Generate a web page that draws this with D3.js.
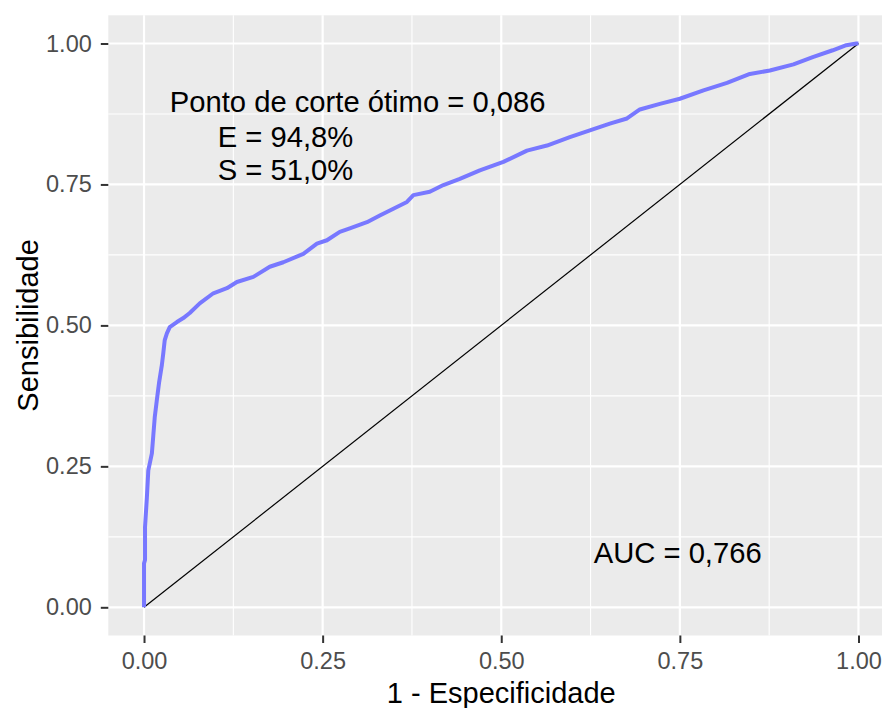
<!DOCTYPE html>
<html>
<head>
<meta charset="utf-8">
<script src="https://cdn.jsdelivr.net/npm/d3@7"></script>
<style>
  body { margin: 0; background: #fff; }
  svg { display: block; font-family: "Liberation Sans", Arial, sans-serif; }
</style>
</head>
<body>
<svg id="chart" width="882" height="708"></svg>
<script>
// ROC curve points: 1 - especificidade / sensibilidade
var fpr = [0, 0, 0.0014, 0.0014, 0.004, 0.006, 0.011, 0.013, 0.015, 0.018, 0.021, 0.025, 0.027, 0.029, 0.032,
  0.036, 0.046, 0.055, 0.064, 0.078, 0.097, 0.116, 0.130, 0.153, 0.176, 0.195, 0.223, 0.242, 0.256, 0.274,
  0.288, 0.312, 0.330, 0.349, 0.368, 0.377, 0.400, 0.419, 0.442, 0.470, 0.503, 0.536, 0.564, 0.596, 0.624,
  0.652, 0.676, 0.694, 0.722, 0.750, 0.783, 0.816, 0.848, 0.876, 0.909, 0.936, 0.964, 0.983, 0.997, 1];
var tpr = [0, 0.078, 0.084, 0.142, 0.195, 0.243, 0.273, 0.305, 0.337, 0.368, 0.398, 0.430, 0.451, 0.474, 0.486,
  0.497, 0.506, 0.513, 0.522, 0.539, 0.557, 0.566, 0.577, 0.586, 0.604, 0.612, 0.627, 0.645, 0.651, 0.666,
  0.672, 0.683, 0.695, 0.707, 0.719, 0.731, 0.737, 0.749, 0.760, 0.775, 0.790, 0.810, 0.819, 0.834, 0.846,
  0.858, 0.867, 0.883, 0.893, 0.902, 0.917, 0.930, 0.946, 0.952, 0.963, 0.976, 0.988, 0.997, 1.0, 1];

var majorTicks = [0, 0.25, 0.5, 0.75, 1];
var minorTicks = [0.125, 0.375, 0.625, 0.875];
var tickLabels = ["0.00", "0.25", "0.50", "0.75", "1.00"];

var xTitle = "1 - Especificidade";
var yTitle = "Sensibilidade";
var notes = [
  { text: "Ponto de corte ótimo = 0,086", x: 0.299, y: 0.879 },
  { text: "E = 94,8%", x: 0.198, y: 0.817 },
  { text: "S = 51,0%", x: 0.198, y: 0.758 },
  { text: "AUC = 0,766", x: 0.747, y: 0.078 }
];

var svg = d3.select("#chart");

var x = d3.scaleLinear().domain([-0.05, 1.05]).range([108.3, 894.2]);
var y = d3.scaleLinear().domain([-0.05, 1.05]).range([635.5, 15.3]);

var x0 = x.range()[0], x1 = x.range()[1];
var y0 = y.range()[0], y1 = y.range()[1];

// panel
svg.append("rect")
  .attr("x", x0).attr("y", y1)
  .attr("width", x1 - x0).attr("height", y0 - y1)
  .attr("fill", "#EBEBEB");

var grid = svg.append("g");
// minor grid
grid.selectAll(".vminor").data(minorTicks).enter().append("line")
  .attr("x1", d => x(d)).attr("x2", d => x(d))
  .attr("y1", y1).attr("y2", y0)
  .attr("stroke", "#fff").attr("stroke-width", 1.1);
grid.selectAll(".hminor").data(minorTicks).enter().append("line")
  .attr("y1", d => y(d)).attr("y2", d => y(d))
  .attr("x1", x0).attr("x2", x1)
  .attr("stroke", "#fff").attr("stroke-width", 1.1);
// major grid
grid.selectAll(".vmajor").data(majorTicks).enter().append("line")
  .attr("x1", d => x(d)).attr("x2", d => x(d))
  .attr("y1", y1).attr("y2", y0)
  .attr("stroke", "#fff").attr("stroke-width", 2.2);
grid.selectAll(".hmajor").data(majorTicks).enter().append("line")
  .attr("y1", d => y(d)).attr("y2", d => y(d))
  .attr("x1", x0).attr("x2", x1)
  .attr("stroke", "#fff").attr("stroke-width", 2.2);

// diagonal reference
svg.append("line")
  .attr("x1", x(0)).attr("y1", y(0))
  .attr("x2", x(1)).attr("y2", y(1))
  .attr("stroke", "#000").attr("stroke-width", 1.2);

// roc curve
var pts = fpr.map((d, i) => [d, tpr[i]]);
var line = d3.line().x(d => x(d[0])).y(d => y(d[1]));
svg.append("path")
  .datum(pts)
  .attr("d", line)
  .attr("fill", "none")
  .attr("stroke", "#7878FF")
  .attr("stroke-width", 4)
  .attr("stroke-linejoin", "round");

// axes
var fmt = (d, i) => tickLabels[majorTicks.indexOf(d)];
var xAxis = svg.append("g")
  .attr("transform", "translate(0," + y0 + ")")
  .call(d3.axisBottom(x).tickValues(majorTicks).tickFormat(fmt).tickSize(7.5).tickPadding(9));
var yAxis = svg.append("g")
  .attr("transform", "translate(" + x0 + ",0)")
  .call(d3.axisLeft(y).tickValues(majorTicks).tickFormat(fmt).tickSize(7.5).tickPadding(9));

[xAxis, yAxis].forEach(function(a) {
  a.select(".domain").remove();
  a.selectAll(".tick line").attr("stroke", "#333").attr("stroke-width", 2);
  a.selectAll(".tick text")
    .attr("fill", "#4D4D4D")
    .style("font-size", "23.5px")
    .style("font-family", "'Liberation Sans', Arial, sans-serif");
});

// titles
svg.append("text")
  .attr("x", (x0 + x1) / 2).attr("y", 703)
  .attr("text-anchor", "middle")
  .style("font-size", "29px")
  .text(xTitle);
svg.append("text")
  .attr("transform", "translate(38," + ((y0 + y1) / 2) + ") rotate(-90)")
  .attr("text-anchor", "middle")
  .style("font-size", "29px")
  .text(yTitle);

// annotations
svg.selectAll(".note").data(notes).enter().append("text")
  .attr("class", "note")
  .attr("x", d => x(d.x)).attr("y", d => y(d.y))
  .attr("text-anchor", "middle")
  .style("font-size", "29.2px")
  .attr("fill", "#000")
  .text(d => d.text);
</script>
</body>
</html>
